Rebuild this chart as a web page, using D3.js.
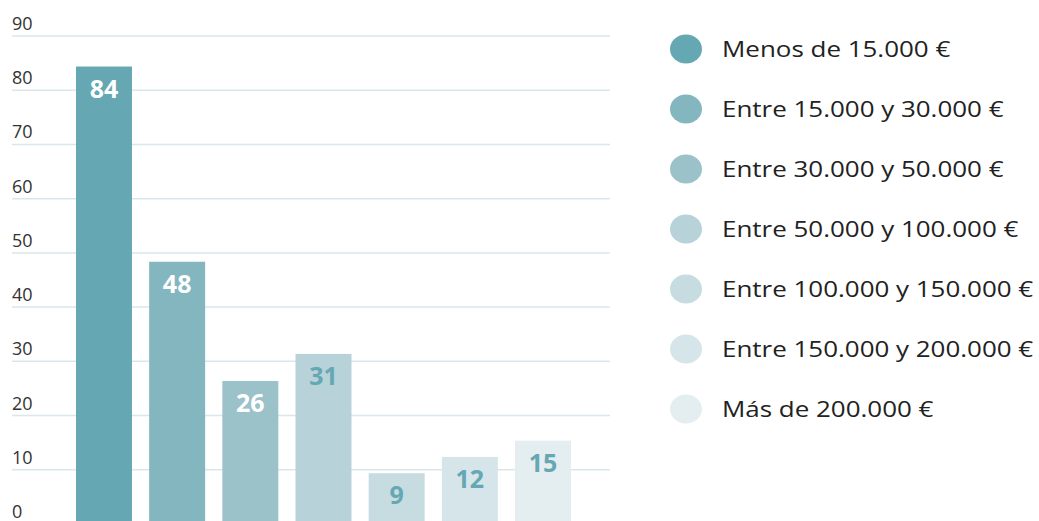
<!DOCTYPE html>
<html>
<head>
<meta charset="utf-8">
<script src="https://cdn.jsdelivr.net/npm/d3@7"></script>
<style>
  body { margin: 0; background: #fff; }
  svg { display: block; font-family: "Open Sans", Lato, sans-serif; }
  .barLabel { font-weight: 700; font-size: 25px; text-anchor: middle; }
  .legend text { fill: #222; font-size: 22px; }
</style>
</head>
<body>
<svg id="chart" width="1039" height="521"></svg>
<script>
'use strict';

// categories, values and colours
const categories = [
  'Menos de 15.000 €',
  'Entre 15.000 y 30.000 €',
  'Entre 30.000 y 50.000 €',
  'Entre 50.000 y 100.000 €',
  'Entre 100.000 y 150.000 €',
  'Entre 150.000 y 200.000 €',
  'Más de 200.000 €',
];
const values = [84, 48, 26, 31, 9, 12, 15];
const colors = ['#65a8b3', '#84b6bf', '#9bc1c9', '#b7d3d9', '#c6dce1', '#d5e5ea', '#e4eef1'];
const yTicks = [0, 10, 20, 30, 40, 50, 60, 70, 80, 90];

const svg = d3.select('#chart');

// bands: first bar at 76, last ends at 571
const x = d3.scaleBand()
  .domain(categories)
  .range([76, 571])
  .paddingInner(0.235)
  .paddingOuter(0);

const y = d3.scaleLinear().domain([0, 90]).range([524, 36]);

// gridlines + tick labels sitting above each line
const grid = svg.append('g');
grid.selectAll('line')
  .data(yTicks)
  .join('line')
  .attr('x1', 12).attr('x2', 610)
  .attr('y1', d => y(d)).attr('y2', d => y(d))
  .attr('stroke', '#d8e7eb')
  .attr('stroke-width', 1.5);
grid.selectAll('text')
  .data(yTicks)
  .join('text')
  .attr('x', 12)
  .attr('y', d => y(d) - 6)
  .style('fill', '#333')
  .style('font-size', '18px')
  .text(d => d);

// bars
const bars = svg.append('g')
  .selectAll('g.bar')
  .data(categories.map((c, i) => ({ c, v: values[i], col: colors[i], i })))
  .join('g')
  .attr('class', 'bar');

bars.append('rect')
  .attr('x', d => x(d.c))
  .attr('width', x.bandwidth())
  .attr('y', d => y(d.v) - 2)
  .attr('height', d => y(0) - y(d.v) + 2)
  .attr('fill', d => d.col);

bars.append('text')
  .attr('class', 'barLabel')
  .attr('x', d => x(d.c) + x.bandwidth() / 2)
  .attr('y', d => y(d.v) + 29)
  .attr('fill', d => (d.i < 3 ? '#fff' : '#65a8b3'))
  .text(d => d.v);

// legend
const legend = svg.append('g')
  .attr('class', 'legend')
  .selectAll('g')
  .data(categories)
  .join('g')
  .attr('transform', (d, i) => `translate(686,${49 + i * 60})`);

legend.append('ellipse')
  .attr('rx', 16).attr('ry', 14.5)
  .attr('fill', (d, i) => colors[i]);

// the reference type runs wide, so stretch the legend text a little
legend.append('text')
  .attr('transform', 'translate(36,0) scale(1.18,1)')
  .attr('dy', '0.36em')
  .text(d => d);
</script>
</body>
</html>
